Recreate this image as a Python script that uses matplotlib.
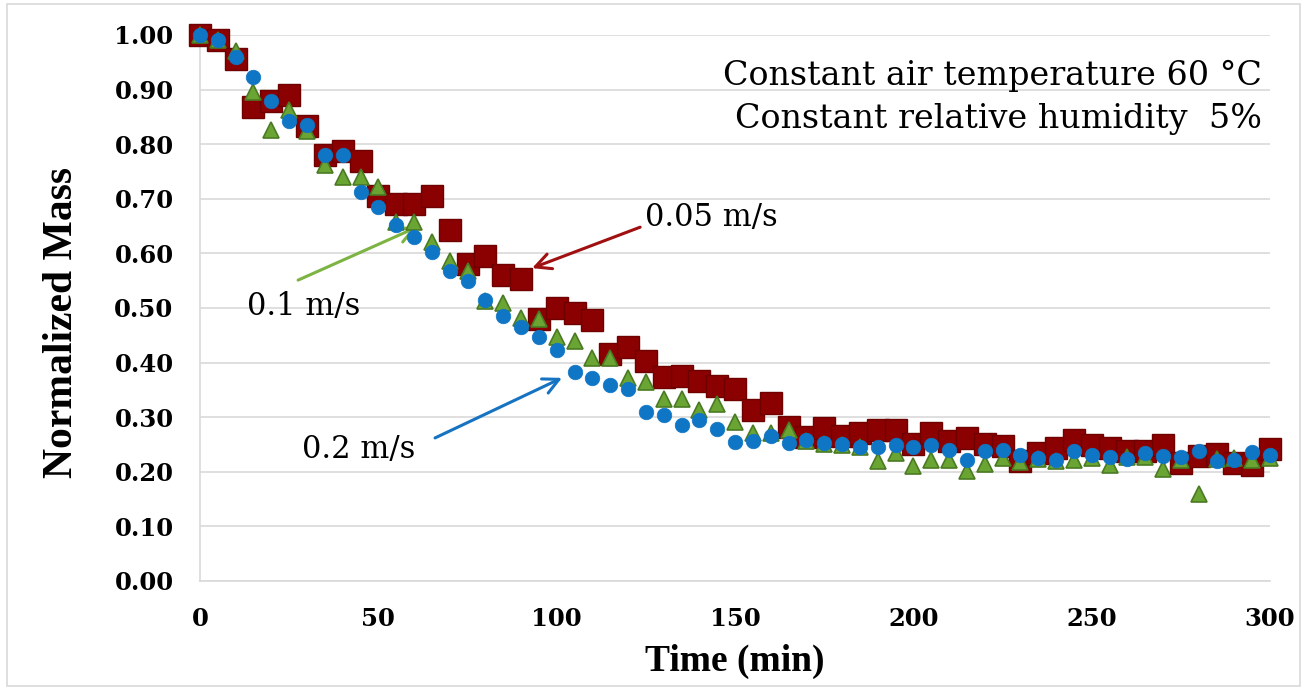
import numpy as np
import matplotlib.pyplot as plt
from matplotlib.patches import Rectangle

# time axis, one reading every 5 minutes
time_min = np.arange(0, 301, 5)

mass_005 = [1.00, 0.99, 0.956, 0.868, 0.88, 0.89, 0.833, 0.78, 0.787, 0.77,
            0.705, 0.69, 0.69, 0.705, 0.643, 0.58, 0.595, 0.56, 0.553, 0.48,
            0.50, 0.49, 0.478, 0.415, 0.428, 0.403, 0.374, 0.375, 0.366, 0.357,
            0.352, 0.313, 0.326, 0.282, 0.264, 0.28, 0.266, 0.271, 0.277, 0.277,
            0.25, 0.271, 0.256, 0.262, 0.25, 0.247, 0.22, 0.234, 0.244, 0.258,
            0.249, 0.244, 0.238, 0.238, 0.249, 0.216, 0.229, 0.233, 0.216, 0.212,
            0.242]

mass_01 = [1.00, 0.99, 0.97, 0.895, 0.826, 0.863, 0.824, 0.762, 0.74, 0.74,
           0.722, 0.658, 0.657, 0.62, 0.586, 0.568, 0.513, 0.51, 0.482, 0.48,
           0.447, 0.44, 0.408, 0.408, 0.372, 0.364, 0.333, 0.333, 0.313, 0.324,
           0.291, 0.271, 0.271, 0.277, 0.256, 0.25, 0.249, 0.245, 0.22, 0.234,
           0.21, 0.222, 0.222, 0.201, 0.214, 0.225, 0.218, 0.223, 0.22, 0.222,
           0.225, 0.212, 0.227, 0.227, 0.205, 0.222, 0.159, 0.223, 0.225, 0.222,
           0.225]

mass_02 = [1.00, 0.99, 0.96, 0.923, 0.88, 0.843, 0.835, 0.78, 0.78, 0.712,
           0.685, 0.652, 0.63, 0.603, 0.568, 0.55, 0.515, 0.485, 0.465, 0.447,
           0.423, 0.383, 0.372, 0.359, 0.352, 0.31, 0.304, 0.286, 0.295, 0.278,
           0.255, 0.256, 0.266, 0.253, 0.258, 0.253, 0.25, 0.245, 0.245, 0.249,
           0.245, 0.249, 0.24, 0.222, 0.238, 0.24, 0.23, 0.225, 0.222, 0.238,
           0.23, 0.227, 0.223, 0.234, 0.229, 0.227, 0.238, 0.22, 0.222, 0.236,
           0.23]

x_ticks = [0, 50, 100, 150, 200, 250, 300]
y_ticks = np.arange(0, 1.01, 0.1)

fig = plt.figure(figsize=(13.08, 6.9), dpi=100)
ax = fig.add_axes([0.1529, 0.158, 0.8181, 0.7913])

ax.plot(time_min, mass_005, ls='none', marker='s', ms=15.5,
        mfc='#8B0000', mec='#6E0000', mew=1.0, clip_on=False, zorder=3)
ax.plot(time_min, mass_01, ls='none', marker='^', ms=11,
        mfc='#6AA534', mec='#4A7A22', mew=1.2, clip_on=False, zorder=4)
ax.plot(time_min, mass_02, ls='none', marker='o', ms=10.5,
        mfc='#0F75C5', mec='#0F75C5', mew=0.5, clip_on=False, zorder=5)

ax.set_xlim(0, 300)
ax.set_ylim(0, 1.0)
ax.set_xticks(x_ticks)
ax.set_yticks(y_ticks)
ax.set_yticklabels([f'{v:.2f}' for v in y_ticks])
ax.tick_params(length=0, labelsize=17.5)
ax.tick_params(axis='y', pad=19)
ax.tick_params(axis='x', pad=19)
for lab in ax.get_xticklabels() + ax.get_yticklabels():
    lab.set_fontfamily('DejaVu Serif')
    lab.set_fontweight('bold')

ax.grid(axis='y', color='#D9D9D9', lw=1.2)
ax.set_axisbelow(True)
for s in ['top', 'right']:
    ax.spines[s].set_visible(False)
for s in ['left', 'bottom']:
    ax.spines[s].set_color('#D9D9D9')
    ax.spines[s].set_linewidth(1.2)

ax.set_xlabel('Time (min)', fontsize=27, fontweight='bold',
              family='Liberation Serif')
ax.xaxis.set_label_coords(0.5, -0.115)
ax.set_ylabel('Normalized Mass', fontsize=30, fontweight='bold',
              family='Liberation Serif')
ax.yaxis.set_label_coords(-0.111, 0.474)

ax.text(0.9925, 0.886, 'Constant air temperature 60 °C\nConstant relative humidity  5%',
        transform=ax.transAxes, ha='right', va='center', fontsize=24,
        family='DejaVu Serif', linespacing=1.42)

# arrows pointing at each series, labels placed beside the tails
arrow_kw = dict(lw=2.2, mutation_scale=28, shrinkA=0, shrinkB=0, arrowstyle='->')
ax.annotate('', xy=(93.1, 0.573), xytext=(123.4, 0.648),
            arrowprops=dict(color='#A01010', **arrow_kw))
ax.text(124.8, 0.665, '0.05 m/s', fontsize=22, family='DejaVu Serif',
        va='center', ha='left')
ax.annotate('', xy=(60.8, 0.648), xytext=(27.5, 0.551),
            arrowprops=dict(color='#7CB342', **arrow_kw))
ax.text(13.2, 0.502, '0.1 m/s', fontsize=22, family='DejaVu Serif',
        va='center', ha='left')
ax.annotate('', xy=(101.5, 0.372), xytext=(65.9, 0.262),
            arrowprops=dict(color='#1673C2', **arrow_kw))
ax.text(28.6, 0.24, '0.2 m/s', fontsize=22, family='DejaVu Serif',
        va='center', ha='left')

fig.patches.append(Rectangle((0.005, 0.006), 0.989, 0.988, transform=fig.transFigure,
                             fill=False, ec='#D9D9D9', lw=1.2))

fig.savefig('out.png', dpi=100)
